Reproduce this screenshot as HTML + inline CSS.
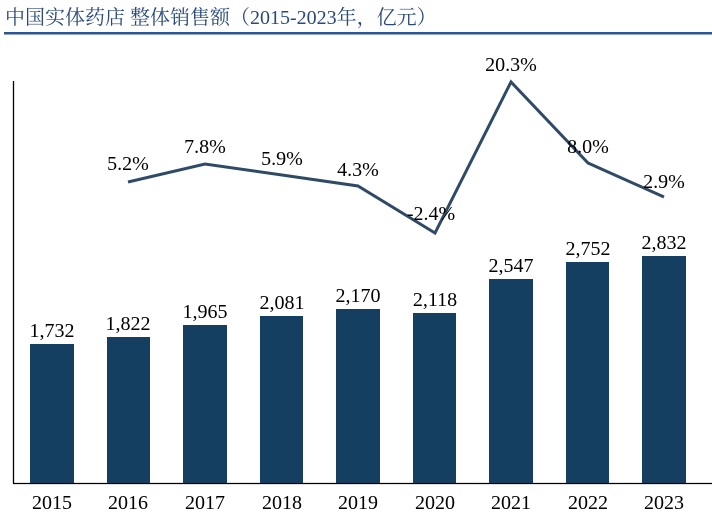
<!DOCTYPE html>
<html><head><meta charset="utf-8"><style>
body{margin:0;background:#fff;}
</style></head><body>
<svg width="712" height="515" xmlns="http://www.w3.org/2000/svg" style="display:block">
<text x="5" y="24" font-family="Liberation Serif, Noto Serif CJK SC, serif" font-size="20" fill="#2a4a7a">中国实体药店 整体销售额（2015-2023年，亿元）</text>
<rect x="4" y="32" width="708" height="2.5" fill="#2b5590"/>
<line x1="13.5" y1="81" x2="13.5" y2="483.5" stroke="#000" stroke-width="1.3"/>
<line x1="13" y1="483.5" x2="712" y2="483.5" stroke="#000" stroke-width="1.3"/>
<g fill="#153f60">
<rect x="30" y="344" width="44" height="139"/>
<rect x="107" y="337" width="43" height="146"/>
<rect x="183" y="325" width="44" height="158"/>
<rect x="260" y="316" width="43" height="167"/>
<rect x="336" y="309" width="44" height="174"/>
<rect x="413" y="313" width="43" height="170"/>
<rect x="489" y="279" width="44" height="204"/>
<rect x="566" y="262" width="43" height="221"/>
<rect x="642" y="256" width="44" height="227"/>
</g>
<g font-family="Liberation Serif, serif" font-size="20" text-anchor="middle" fill="#000">
<text x="52" y="337">1,732</text>
<text x="128" y="330">1,822</text>
<text x="205" y="318">1,965</text>
<text x="282" y="309">2,081</text>
<text x="358" y="302">2,170</text>
<text x="435" y="306">2,118</text>
<text x="511" y="272">2,547</text>
<text x="588" y="255">2,752</text>
<text x="664" y="249">2,832</text>
<text x="52" y="509">2015</text>
<text x="128" y="509">2016</text>
<text x="205" y="509">2017</text>
<text x="282" y="509">2018</text>
<text x="358" y="509">2019</text>
<text x="435" y="509">2020</text>
<text x="511" y="509">2021</text>
<text x="588" y="509">2022</text>
<text x="664" y="509">2023</text>
</g>
<polyline points="128,182 205,164 282,175 358,186 435,233 511,82 588,163 664,197" fill="none" stroke="#2f4a66" stroke-width="3"/>
<g font-family="Liberation Serif, serif" font-size="20" text-anchor="middle" fill="#000">
<text x="128" y="170">5.2%</text>
<text x="205" y="153">7.8%</text>
<text x="282" y="165">5.9%</text>
<text x="358" y="176">4.3%</text>
<text x="431" y="220">-2.4%</text>
<text x="511" y="71">20.3%</text>
<text x="588" y="153">8.0%</text>
<text x="664" y="188">2.9%</text>
</g>
</svg>
</body></html>
